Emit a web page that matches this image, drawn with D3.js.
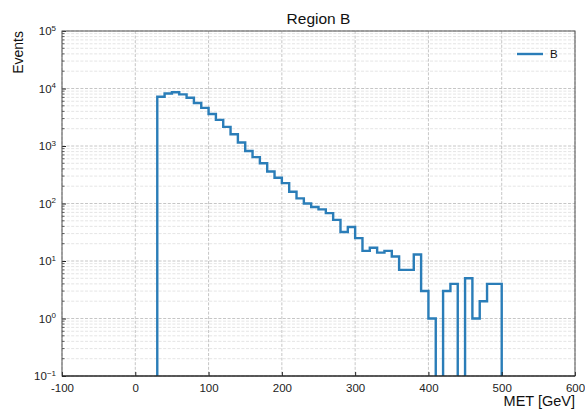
<!DOCTYPE html>
<html>
<head>
<meta charset="utf-8">
<script src="https://cdn.jsdelivr.net/npm/d3@7"></script>
<style>
  html, body { margin: 0; padding: 0; background: #fff; }
  svg { display: block; font-family: "Liberation Sans", Arial, Helvetica, sans-serif; }
</style>
</head>
<body>
<svg id="chart" width="585" height="412"></svg>
<script>
// MET distribution, region B: 10 GeV bins from 30 to 500 GeV
const binEdges = d3.range(30, 501, 10);
const counts = [
  7200, 8200, 8600, 7900, 6900, 5600, 4600, 3600, 2850, 2150,
  1600, 1150, 820, 640, 500, 360, 280, 226, 160, 123,
  100, 87, 79, 68, 52, 32, 39, 25, 15, 17,
  14, 15, 12, 7, 7, 13, 3, 1, 0, 3,
  4, 0, 5, 1, 2, 4, 4
];
const seriesName = "B";
const xTicks = [-100, 0, 100, 200, 300, 400, 500, 600];
const yExponents = [-1, 0, 1, 2, 3, 4, 5];
const titleText = "Region B";
const xLabel = "MET [GeV]";
const yLabel = "Events";

const W = 585, H = 412;
const margin = { left: 62, right: 10, top: 31, bottom: 36 };
const iw = W - margin.left - margin.right;
const ih = H - margin.top - margin.bottom;
const lineColor = "#2a7db8";

const svg = d3.select("#chart");
const g = svg.append("g").attr("transform", `translate(${margin.left},${margin.top})`);

const x = d3.scaleLinear().domain([-100, 600]).range([0, iw]);
const y = d3.scaleLog().domain([0.1, 1e5]).range([ih, 0]);

// grid: minor (log) then major
const minorVals = [];
yExponents.slice(0, -1).forEach(e => {
  for (let k = 2; k <= 9; k++) minorVals.push(k * Math.pow(10, e));
});
g.append("g").selectAll("line").data(minorVals).join("line")
  .attr("x1", 0).attr("x2", iw)
  .attr("y1", d => y(d)).attr("y2", d => y(d))
  .attr("stroke", "#d4d4d4").attr("stroke-width", 0.6)
  .attr("stroke-dasharray", "3,1.6");
g.append("g").selectAll("line").data(yExponents.map(e => Math.pow(10, e))).join("line")
  .attr("x1", 0).attr("x2", iw)
  .attr("y1", d => y(d)).attr("y2", d => y(d))
  .attr("stroke", "#b8b8b8").attr("stroke-width", 0.8)
  .attr("stroke-dasharray", "3,1.6");
g.append("g").selectAll("line").data(xTicks).join("line")
  .attr("x1", d => x(d)).attr("x2", d => x(d))
  .attr("y1", 0).attr("y2", ih)
  .attr("stroke", "#b8b8b8").attr("stroke-width", 0.8)
  .attr("stroke-dasharray", "3,1.6");

// step histogram outline
g.append("clipPath").attr("id", "plotClip")
  .append("rect").attr("x", 0).attr("y", 0).attr("width", iw).attr("height", ih);
const yv = v => v > 0 ? y(v) : ih + 10;
const pts = [[x(binEdges[0]), ih + 10]];
counts.forEach((c, i) => {
  pts.push([x(binEdges[i]), yv(c)]);
  pts.push([x(binEdges[i + 1]), yv(c)]);
});
pts.push([x(binEdges[binEdges.length - 1]), ih + 10]);
g.append("path")
  .attr("clip-path", "url(#plotClip)")
  .attr("d", d3.line()(pts))
  .attr("fill", "none")
  .attr("stroke", lineColor)
  .attr("stroke-width", 2.4)
  .attr("stroke-linejoin", "miter");

// axes (ticks pointing inward)
const xAxis = d3.axisBottom(x).tickValues(xTicks).tickSize(-4).tickPadding(8).tickFormat(d3.format("d"));
const gx = g.append("g").attr("transform", `translate(0,${ih})`).call(xAxis);
gx.select(".domain").remove();
gx.selectAll(".tick line").attr("stroke", "#222");
gx.selectAll(".tick text").attr("font-size", 11.5).attr("fill", "#222")
  .text(d => d < 0 ? "-" + Math.abs(d) : d);

const yAxis = d3.axisLeft(y).tickValues(yExponents.map(e => Math.pow(10, e))).tickSize(-4).tickPadding(6).tickFormat("");
const gy = g.append("g").call(yAxis);
gy.select(".domain").remove();
gy.selectAll(".tick line").attr("stroke", "#222");
gy.selectAll(".tick").each(function(d, i) {
  const t = d3.select(this).append("text")
    .attr("x", -6).attr("dy", "0.32em")
    .attr("text-anchor", "end").attr("font-size", 11.5).attr("fill", "#222");
  t.append("tspan").text("10");
  const e = yExponents[i];
  t.append("tspan").attr("dy", "-0.55em").attr("font-size", 8)
    .text(e < 0 ? "\u2212" + Math.abs(e) : e);
});
g.append("g").selectAll("line").data(minorVals).join("line")
  .attr("x1", 0).attr("x2", 2.5)
  .attr("y1", d => y(d)).attr("y2", d => y(d))
  .attr("stroke", "#222").attr("stroke-width", 0.7);

// frame
g.append("rect").attr("x", 0).attr("y", 0).attr("width", iw).attr("height", ih)
  .attr("fill", "none").attr("stroke", "#555").attr("stroke-width", 1);
g.append("line").attr("x1", 0).attr("x2", iw).attr("y1", ih).attr("y2", ih)
  .attr("stroke", "#111").attr("stroke-width", 1.2);

// labels
svg.append("text").attr("x", margin.left + iw / 2).attr("y", 24)
  .attr("text-anchor", "middle").attr("font-size", 15.5).attr("fill", "#111").text(titleText);
svg.append("text").attr("x", margin.left + iw).attr("y", 406)
  .attr("text-anchor", "end").attr("font-size", 14.5).attr("fill", "#111").text(xLabel);
svg.append("text")
  .attr("transform", `translate(23,${margin.top}) rotate(-90)`)
  .attr("text-anchor", "end").attr("font-size", 14).attr("fill", "#111").text(yLabel);

// legend
const lg = g.append("g").attr("transform", `translate(${iw - 58},${y(1e5) + 23})`);
lg.append("line").attr("x1", 0).attr("x2", 26).attr("y1", 0).attr("y2", 0)
  .attr("stroke", lineColor).attr("stroke-width", 2.4);
lg.append("text").attr("x", 33).attr("y", 0).attr("dy", "0.35em")
  .attr("font-size", 11.5).attr("fill", "#111").text(seriesName);
</script>
</body>
</html>
